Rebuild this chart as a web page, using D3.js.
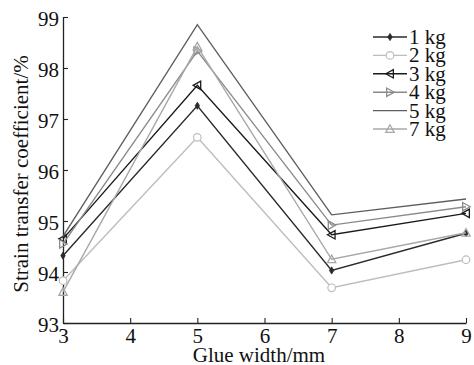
<!DOCTYPE html>
<html>
<head>
<meta charset="utf-8">
<script src="https://cdn.jsdelivr.net/npm/d3@7"></script>
<style>
  html, body { margin: 0; padding: 0; background: #fff; }
  svg { display: block; font-family: "Liberation Serif", "Times New Roman", serif; }
</style>
</head>
<body>
<svg id="chart" width="474" height="365"></svg>
<script>
// Glue width (mm) on the x axis
const glueWidths = [3, 5, 7, 9];

// Strain transfer coefficient (%) for each load
const load1kg = [94.32, 97.26, 94.03, 94.76];
const load2kg = [93.83, 96.64, 93.69, 94.24];
const load3kg = [94.65, 97.66, 94.73, 95.15];
const load4kg = [94.55, 98.33, 94.92, 95.28];
const load5kg = [94.70, 98.85, 95.12, 95.43];
const load7kg = [93.61, 98.42, 94.25, 94.77];

const seriesNames = ["1 kg", "2 kg", "3 kg", "4 kg", "5 kg", "7 kg"];
const seriesValues = [load1kg, load2kg, load3kg, load4kg, load5kg, load7kg];
const seriesColors = ["#2a2a2a", "#bdbdbd", "#1a1a1a", "#8a8a8a", "#5e5e5e", "#a8a8a8"];
const seriesMarkers = ["dot", "circle", "triLeft", "triRight", "none", "triUp"];

const xTicks = [3, 4, 5, 6, 7, 8, 9];
const yTicks = [93, 94, 95, 96, 97, 98, 99];

const svg = d3.select("#chart");
const plotLeft = 63, plotRight = 466, plotTop = 17, plotBottom = 323;
const fontSize = 21;

const x = d3.scaleLinear().domain([3, 9]).range([plotLeft, plotRight]);
const y = d3.scaleLinear().domain([93, 99]).range([plotBottom, plotTop]);

// Axes with inward ticks
const xAxis = svg.append("g").attr("transform", `translate(0,${plotBottom})`)
  .call(d3.axisBottom(x).tickValues(xTicks).tickSizeInner(-5).tickSizeOuter(0).tickPadding(5).tickFormat(d3.format("d")));
const yAxis = svg.append("g").attr("transform", `translate(${plotLeft},0)`)
  .call(d3.axisLeft(y).tickValues(yTicks).tickSizeInner(-5).tickSizeOuter(0).tickPadding(4).tickFormat(d3.format("d")));

[xAxis, yAxis].forEach(g => {
  g.select(".domain").attr("stroke", "#222").attr("stroke-width", 1.3);
  g.selectAll(".tick line").attr("stroke", "#222").attr("stroke-width", 1.1);
  g.selectAll(".tick text").attr("fill", "#111").style("font-size", fontSize + "px")
    .style("font-family", "Liberation Serif, serif");
});
xAxis.selectAll(".tick text").attr("dy", "0.71em");
yAxis.selectAll(".tick text").attr("dy", "0.42em");

// Axis titles
svg.append("text")
  .attr("x", 259).attr("y", 362)
  .attr("text-anchor", "middle")
  .style("font-size", fontSize + "px").attr("fill", "#111")
  .text("Glue width/mm");
svg.append("text")
  .attr("transform", "translate(28,174) rotate(-90)")
  .attr("text-anchor", "middle")
  .style("font-size", fontSize + "px").attr("fill", "#111")
  .text("Strain transfer coefficient/%");

// Marker drawing
function drawMarker(g, type, cx, cy, color) {
  const s = 4.2;
  if (type === "dot") {
    g.append("path")
      .attr("d", `M${cx},${cy - 3.6}L${cx + 2.2},${cy}L${cx},${cy + 3.6}L${cx - 2.2},${cy}Z`)
      .attr("fill", color).attr("stroke", color).attr("stroke-width", 0.8);
  } else if (type === "circle") {
    g.append("circle").attr("cx", cx).attr("cy", cy).attr("r", 3.8)
      .attr("fill", "#fff").attr("stroke", color).attr("stroke-width", 1.2);
  } else if (type !== "none") {
    let pts;
    if (type === "triUp") pts = [[cx, cy - s], [cx - s, cy + s * 0.8], [cx + s, cy + s * 0.8]];
    if (type === "triLeft") pts = [[cx - s, cy], [cx + s * 0.8, cy - s], [cx + s * 0.8, cy + s]];
    if (type === "triRight") pts = [[cx + s, cy], [cx - s * 0.8, cy - s], [cx - s * 0.8, cy + s]];
    g.append("polygon").attr("points", pts.map(p => p.join(",")).join(" "))
      .attr("fill", "none").attr("stroke", color).attr("stroke-width", 1.3);
  }
}

const line = d3.line().x((d, i) => x(glueWidths[i])).y(d => y(d));

const plot = svg.append("g");
seriesValues.forEach((vals, k) => {
  const g = plot.append("g");
  g.append("path").datum(vals).attr("d", line)
    .attr("fill", "none").attr("stroke", seriesColors[k]).attr("stroke-width", 1.4)
    .attr("stroke-linejoin", "miter");
  vals.forEach((v, i) => drawMarker(g, seriesMarkers[k], x(glueWidths[i]), y(v), seriesColors[k]));
});

// Legend
const legend = svg.append("g");
seriesNames.forEach((name, k) => {
  const ly = 37 + k * 18.4;
  legend.append("line").attr("x1", 373).attr("x2", 407).attr("y1", ly).attr("y2", ly)
    .attr("stroke", seriesColors[k]).attr("stroke-width", 1.4);
  drawMarker(legend, seriesMarkers[k], 390, ly, seriesColors[k]);
  legend.append("text").attr("x", 409).attr("y", ly).attr("dy", "0.33em")
    .style("font-size", fontSize + "px").attr("fill", "#111").text(name);
});
</script>
</body>
</html>
